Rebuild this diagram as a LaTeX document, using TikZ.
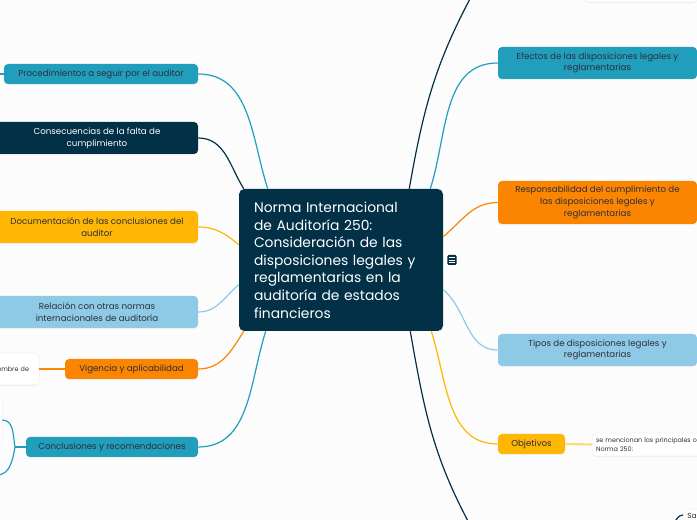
\documentclass[tikz,border=0pt]{standalone}
\usepackage{fontspec}
\setmainfont{Poppins}
\usetikzlibrary{positioning, calc, shadows}

\definecolor{mmnavy}{HTML}{023047}
\definecolor{mmteal}{HTML}{219EBC}
\definecolor{mmsky}{HTML}{8ECAE6}
\definecolor{mmyellow}{HTML}{FFB703}
\definecolor{mmorange}{HTML}{FB8500}
\definecolor{mmpale}{HTML}{FFD97A}
\definecolor{mmink}{HTML}{2B2F3A}
\definecolor{mmbg}{HTML}{FCFCFC}

\begin{document}
\begin{tikzpicture}[
    x=0.75pt, y=0.75pt,
    central/.style={rectangle, fill=mmnavy, text=white, rounded corners=4pt, minimum width=153pt, minimum height=106.5pt, text width=130.5pt, inner xsep=11.25pt, align=left, font=\fontsize{10.4}{13.2}\selectfont},
    topic/.style={rectangle, rounded corners=3pt, minimum height=15pt, inner sep=2pt, align=center, text=mmink, font=\fontsize{6.5}{8.8}\selectfont, drop shadow={opacity=0.10, shadow xshift=0pt, shadow yshift=-0.8pt}},
    card/.style={rectangle, rounded corners=3pt, fill=white, draw=black!5, inner sep=3pt, text=mmink, font=\fontsize{4.8}{7.2}\selectfont, drop shadow={opacity=0.10, shadow xshift=0pt, shadow yshift=-0.8pt}},
    link/.style={line width=0.9pt},
    every node/.style={inner sep=2pt}
]

\useasboundingbox (0,0) rectangle (697,520);
\fill[mmbg] (0,0) rectangle (697,520);

% =================== CENTRAL TOPIC ===================
\node[central] (norma) at (341,260) {Norma Internacional\\de Auditoría 250:\\Consideración de las\\disposiciones legales y\\reglamentarias en la\\auditoría de estados\\financieros};

\node[rectangle, rounded corners=1pt, fill=mmnavy, minimum width=7pt, minimum height=7.5pt, inner sep=0pt] (memo) at (452,260) {};
\foreach \dy in {2.6,0,-2.6}
    \draw[white, line width=0.5pt] ($(memo.center)+(-2.6,\dy)$) -- ++(5.2,0);

% =================== LEFT TOPICS ===================
\node[topic, fill=mmteal, minimum width=145.5pt] (proc) at (101,446) {Procedimientos a seguir por el auditor};
\node[topic, fill=mmnavy, text=white, minimum width=151.5pt, minimum height=24pt] (cons) at (97,382) {Consecuencias de la falta de\\cumplimiento};
\node[topic, fill=mmyellow, minimum width=151.5pt, minimum height=24pt] (doc) at (97,293) {Documentación de las conclusiones del\\auditor};
\node[topic, fill=mmsky, minimum width=151.5pt, minimum height=24pt] (rel) at (97,208) {Relación con otras normas\\internacionales de auditoría};
\node[topic, fill=mmorange, minimum width=99.75pt] (vig) at (131.5,151) {Vigencia y aplicabilidad};
\node[topic, fill=mmteal, minimum width=129pt] (concl) at (112,73) {Conclusiones y recomendaciones};

% children, mostly off the page
\node[card, minimum width=74.25pt, minimum height=24pt, text width=59.25pt, inner xsep=7.5pt, align=right] (vigc) at (-10.5,151) {diciembre de};
\node[card, minimum width=61.5pt, minimum height=36pt] (concl1) at (-39,100) {};
\coordinate (procend) at (-3,446);
\coordinate (cj) at (15,73);
\coordinate (conclend) at (-3,45);

% =================== RIGHT TOPICS ===================
\node[topic, fill=mmteal, minimum width=149.25pt, minimum height=24pt] (efe) at (597.5,457) {Efectos de las disposiciones legales y\\reglamentarias};
\node[topic, fill=mmorange, minimum width=149.25pt, minimum height=32.25pt] (resp) at (597.5,317.5) {Responsabilidad del cumplimiento de\\las disposiciones legales y\\reglamentarias};
\node[topic, fill=mmsky, minimum width=149.25pt, minimum height=24pt] (tipos) at (597.5,170) {Tipos de disposiciones legales y\\reglamentarias};
\node[topic, fill=mmyellow, minimum width=50.25pt] (obj) at (531.5,76) {Objetivos};

% children, mostly off the page
\node[card, minimum width=103.5pt, minimum height=17.25pt, text width=97.5pt, align=left] (objc) at (661,75.5) {se mencionan los principales o\\Norma 250:};
\node[card, minimum width=84pt, minimum height=16.5pt] (topc) at (641,529) {};
\node[card, anchor=north west, font=\fontsize{5.5}{7}\selectfont] (sac) at (683,11) {Sa};
\coordinate (topend) at (471,523);
\coordinate (botend) at (469,-3);
\coordinate (saend) at (673,-4);

% =================== CONNECTORS ===================
\draw[link, mmteal] (proc.east) to[out=0, in=108] ($(norma.north west)+(29,0)$);
\draw[link, mmnavy] (cons.east) to[out=0, in=122] ($(norma.north west)+(5,0)$);
\draw[link, mmyellow] (doc.east) to[out=0, in=140] ($(norma.north west)+(0,-56)$);
\draw[link, mmsky] (rel.east) to[out=0, in=-140] ($(norma.north west)+(0,-96)$);
\draw[link, mmorange] (vig.east) to[out=0, in=-122] ($(norma.south west)+(5,0)$);
\draw[link, mmteal] (concl.east) to[out=0, in=-108] ($(norma.south west)+(27,0)$);

\draw[link, mmnavy] ($(norma.north east)+(-34,0)$) to[out=80, in=-118] (topend);
\draw[link, mmteal] ($(norma.north east)+(-13,0)$) to[out=72, in=180] (efe.west);
\draw[link, mmorange] ($(norma.north east)+(0,-48)$) to[out=40, in=180] (resp.west);
\draw[link, mmsky] ($(norma.north east)+(0,-101)$) to[out=-40, in=180] (tipos.west);
\draw[link, mmyellow] ($(norma.south east)+(-12,0)$) to[out=-72, in=180] (obj.west);
\draw[link, mmnavy] ($(norma.south east)+(-33,0)$) to[out=-80, in=118] (botend);

% child links
\draw[link, mmteal] (proc.west) -- (procend);
\draw[link, mmorange] (vig.west) -- (vigc.east);
\draw[link, mmteal] (concl.west) -- (cj);
\draw[link, mmteal] (cj) to[out=100, in=0] (concl1.east);
\draw[link, mmteal] (cj) to[out=-100, in=0] (conclend);
\draw[mmpale, line width=1.6pt] (obj.east) -- (objc.west);
\draw[link, mmnavy] (saend) to[out=45, in=180] ($(sac.north west)+(0,-6)$);

\end{tikzpicture}
\end{document}
